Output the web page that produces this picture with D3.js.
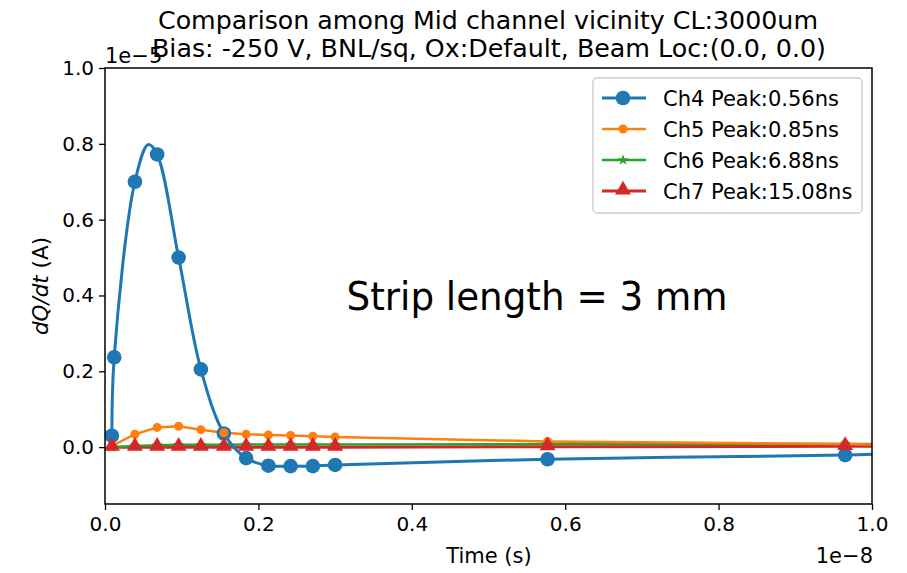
<!DOCTYPE html>
<html><head><meta charset="utf-8">
<script src="https://cdn.jsdelivr.net/npm/d3@7"></script>
<style>body{margin:0;background:#fff}svg{display:block}text{font-family:"DejaVu Sans",sans-serif;fill:#000}</style>
</head><body>
<svg id="c" width="907" height="573"></svg>
<script>
// time in ns, values in 1e-5 A
const markerTimes = [0.09, 0.39, 0.68, 0.96, 1.25, 1.55, 1.84, 2.13, 2.42, 2.71, 3.00, 5.77, 9.65];
const ch4LineTimes = [0.09, 0.12, 0.39, 0.565, 0.68, 0.96, 1.25, 1.55, 1.84, 2.13, 2.42, 2.71, 3.00, 5.77, 9.65, 10.0];
const ch4LineValues = [0.03, 0.237, 0.70, 0.798, 0.772, 0.50, 0.205, 0.036, -0.029, -0.049, -0.050, -0.050, -0.047, -0.032, -0.021, -0.019];
const ch4MarkTimes = [0.09, 0.12, 0.39, 0.68, 0.96, 1.25, 1.55, 1.84, 2.13, 2.42, 2.71, 3.00, 5.77, 9.65];
const ch4MarkValues = [0.03, 0.237, 0.70, 0.772, 0.50, 0.205, 0.036, -0.029, -0.049, -0.050, -0.050, -0.047, -0.032, -0.021];
const ch5Values = [0.003, 0.034, 0.052, 0.055, 0.046, 0.038, 0.034, 0.032, 0.031, 0.029, 0.027, 0.015, 0.008];
const ch6Values = [0.0, 0.003, 0.005, 0.006, 0.006, 0.006, 0.007, 0.007, 0.007, 0.007, 0.007, 0.008, 0.008];
const ch7Values = [0.0, 0.0, 0.0, 0.0, 0.0, 0.0, 0.0, 0.0, 0.0, 0.0, 0.0, 0.001, 0.002];
const endTime = 10.0;
const ch5End = 0.007, ch6End = 0.008, ch7End = 0.002;
const legendLabels = ["Ch4 Peak:0.56ns", "Ch5 Peak:0.85ns", "Ch6 Peak:6.88ns", "Ch7 Peak:15.08ns"];
const colors = ["#1f77b4", "#ff7f0e", "#2ca02c", "#d62728"];
const xTicks = [0, 2, 4, 6, 8, 10];
const xTickLabels = ["0.0", "0.2", "0.4", "0.6", "0.8", "1.0"];
const yTicks = [0, 0.2, 0.4, 0.6, 0.8, 1.0];
const yTickLabels = ["0.0", "0.2", "0.4", "0.6", "0.8", "1.0"];

const svg = d3.select("#c");
const L = 105, R = 872, T = 68, B = 504;
const x = d3.scaleLinear().domain([0, 10]).range([L, R]);
const y = d3.scaleLinear().domain([-0.15, 1.0]).range([B, T]);

svg.append("defs").append("clipPath").attr("id", "clip")
  .append("rect").attr("x", L).attr("y", T).attr("width", R - L).attr("height", B - T);

const plot = svg.append("g").attr("clip-path", "url(#clip)");
const line = d3.line().x(d => x(d[0])).y(d => y(d[1]));
const smooth = d3.line().x(d => x(d[0])).y(d => y(d[1])).curve(d3.curveCatmullRom.alpha(0.5));

const ser = (vals, end) => markerTimes.map((t, i) => [t, vals[i]]).concat([[endTime, end]]);

plot.append("path").datum(ser(ch7Values, ch7End)).attr("d", line).attr("fill", "none").attr("stroke", colors[3]).attr("stroke-width", 3);
plot.append("path").datum(ser(ch6Values, ch6End)).attr("d", line).attr("fill", "none").attr("stroke", colors[2]).attr("stroke-width", 2.5);
plot.append("path").datum(ser(ch5Values, ch5End)).attr("d", line).attr("fill", "none").attr("stroke", colors[1]).attr("stroke-width", 2.5);
plot.append("path").datum(ch4LineTimes.map((t, i) => [t, ch4LineValues[i]])).attr("d", smooth)
  .attr("fill", "none").attr("stroke", colors[0]).attr("stroke-width", 3);

const star = d3.symbol().type(d3.symbolStar).size(40);
const tri = d3.symbol().type(d3.symbolTriangle).size(110);

plot.selectAll(".m4").data(ch4MarkTimes.map((t, i) => [t, ch4MarkValues[i]])).join("circle")
  .attr("cx", d => x(d[0])).attr("cy", d => y(d[1])).attr("r", 7.3).attr("fill", colors[0]);
plot.selectAll(".m5").data(ser(ch5Values, ch5End).slice(0, -1)).join("circle")
  .attr("cx", d => x(d[0])).attr("cy", d => y(d[1])).attr("r", 4.5).attr("fill", colors[1]);
plot.selectAll(".m6").data(ser(ch6Values, ch6End).slice(0, -1)).join("path")
  .attr("transform", d => `translate(${x(d[0])},${y(d[1])})`).attr("d", star).attr("fill", colors[2]);
plot.selectAll(".m7").data(ser(ch7Values, ch7End).slice(0, -1)).join("path")
  .attr("transform", d => `translate(${x(d[0])},${y(d[1]) - 1})`).attr("d", tri).attr("fill", colors[3]);

// axes
const xAxis = svg.append("g").attr("transform", `translate(0,${B})`)
  .call(d3.axisBottom(x).tickValues(xTicks).tickFormat((d, i) => xTickLabels[i]).tickSizeOuter(0).tickSize(6).tickPadding(4));
const yAxis = svg.append("g").attr("transform", `translate(${L},0)`)
  .call(d3.axisLeft(y).tickValues(yTicks).tickFormat((d, i) => yTickLabels[i]).tickSizeOuter(0).tickSize(6).tickPadding(5));
[xAxis, yAxis].forEach(g => {
  g.select(".domain").remove();
  g.selectAll("line").attr("stroke", "#000").attr("stroke-width", 1.3);
  g.selectAll("text").attr("font-size", 20).attr("font-family", "DejaVu Sans").attr("fill", "#000");
});
xAxis.selectAll("text").attr("dy", "0.85em");
svg.append("rect").attr("x", L).attr("y", T).attr("width", R - L).attr("height", B - T)
  .attr("fill", "none").attr("stroke", "#000").attr("stroke-width", 1.5);

// offset texts & labels
svg.append("text").attr("x", R + 1).attr("y", 563).attr("text-anchor", "end").attr("font-size", 21).text("1e\u22128");
svg.append("text").attr("x", L).attr("y", 63).attr("font-size", 21).text("1e\u22125");
svg.append("text").attr("x", 489).attr("y", 563).attr("text-anchor", "middle").attr("font-size", 21).text("Time (s)");
const yl = svg.append("text").attr("transform", "translate(48,286) rotate(-90)").attr("text-anchor", "middle").attr("font-size", 21.5);
yl.append("tspan").attr("font-style", "italic").text("dQ/dt");
yl.append("tspan").text(" (A)");

// title
svg.append("text").attr("x", 488).attr("y", 29).attr("text-anchor", "middle").attr("font-size", 25)
  .attr("textLength", 660).attr("lengthAdjust", "spacingAndGlyphs").text("Comparison among Mid channel vicinity CL:3000um");
svg.append("text").attr("x", 489).attr("y", 57).attr("text-anchor", "middle").attr("font-size", 25)
  .attr("textLength", 674).attr("lengthAdjust", "spacingAndGlyphs").text("Bias: -250 V, BNL/sq, Ox:Default, Beam Loc:(0.0, 0.0)");

// annotation
svg.append("text").attr("x", 537).attr("y", 310).attr("text-anchor", "middle").attr("font-size", 39)
  .attr("font-family", "Lato, 'Open Sans', sans-serif").attr("textLength", 381).attr("lengthAdjust", "spacingAndGlyphs")
  .text("Strip length = 3 mm");

// legend
const lg = svg.append("g");
lg.append("rect").attr("x", 593).attr("y", 78).attr("width", 269).attr("height", 135).attr("rx", 4)
  .attr("fill", "#fff").attr("fill-opacity", 0.8).attr("stroke", "#ccc").attr("stroke-width", 1.3);
const rowsY = [98, 129, 160, 191];
legendLabels.forEach((lab, i) => {
  const yy = rowsY[i];
  lg.append("line").attr("x1", 602).attr("x2", 646).attr("y1", yy).attr("y2", yy).attr("stroke", colors[i]).attr("stroke-width", i === 0 || i === 3 ? 3 : 2.5);
  if (i === 0) lg.append("circle").attr("cx", 623).attr("cy", yy).attr("r", 7.3).attr("fill", colors[0]);
  if (i === 1) lg.append("circle").attr("cx", 623).attr("cy", yy).attr("r", 4.5).attr("fill", colors[1]);
  if (i === 2) lg.append("path").attr("transform", `translate(623,${yy})`).attr("d", star).attr("fill", colors[2]);
  if (i === 3) lg.append("path").attr("transform", `translate(623,${yy - 1})`).attr("d", tri).attr("fill", colors[3]);
  lg.append("text").attr("x", 663).attr("y", yy + 7.5).attr("font-size", 21).text(lab);
});
</script>
</body></html>
